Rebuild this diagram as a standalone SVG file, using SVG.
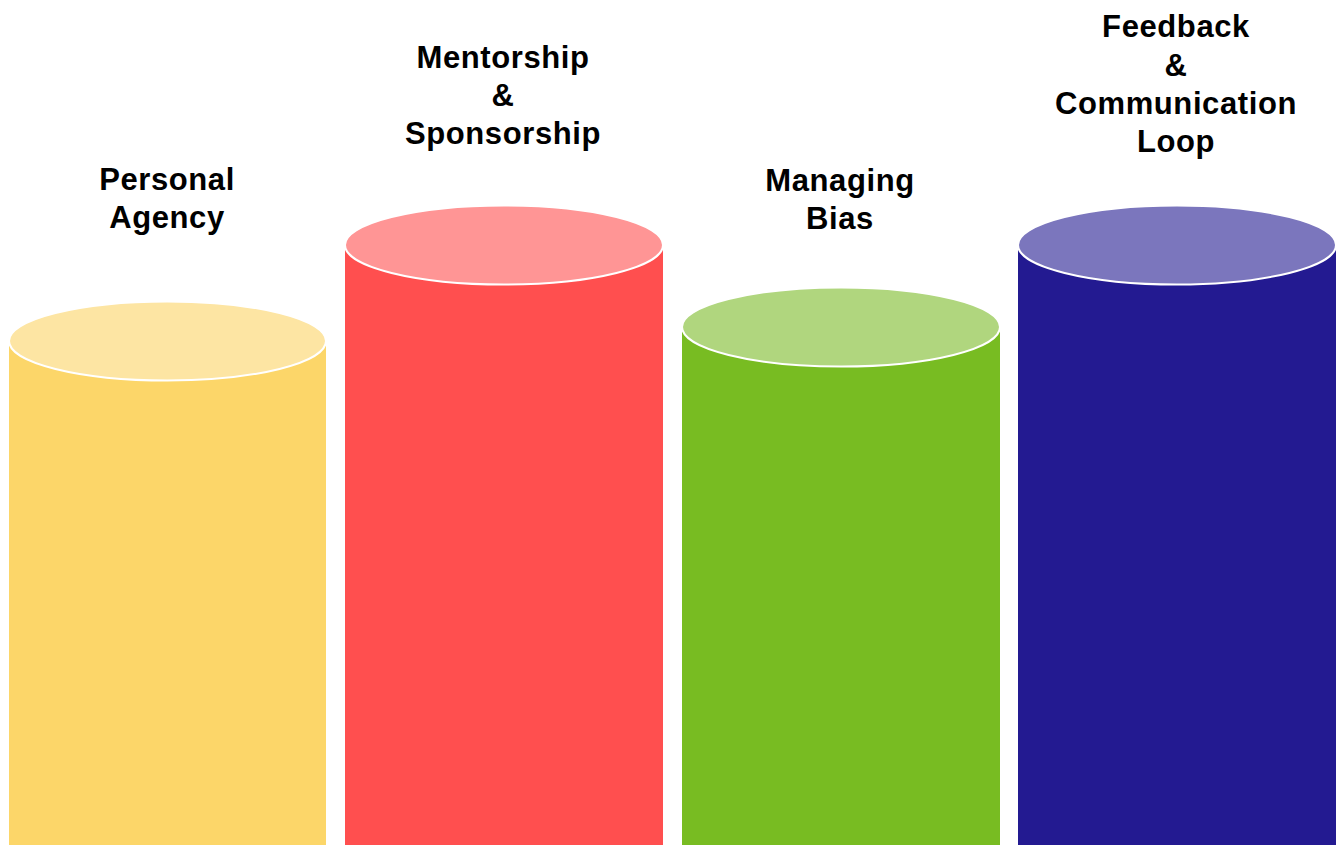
<svg xmlns="http://www.w3.org/2000/svg" width="1340" height="845" viewBox="0 0 1340 845">
  <style>
    .lbl { font-family: "Liberation Sans", Arial, sans-serif; font-weight: bold; font-size: 31px; letter-spacing: 0.6px; fill: #000; text-anchor: middle; }
    .cap { stroke: #fff; stroke-width: 2; }
  </style>
  <rect width="1340" height="845" fill="#fff"/>

  <!-- Column 1: Personal Agency -->
  <g id="personal-agency">
    <path d="M9 341 L9 845 L326 845 L326 341 Z" fill="#FCD669"/>
    <ellipse class="cap" cx="167.5" cy="341" rx="158.5" ry="39.5" fill="#FDE5A3"/>
    <text class="lbl" x="167" y="190">Personal</text>
    <text class="lbl" x="167" y="228">Agency</text>
  </g>

  <!-- Column 2: Mentorship & Sponsorship -->
  <g id="mentorship-sponsorship">
    <path d="M345 245 L345 845 L663 845 L663 245 Z" fill="#FF4F4F"/>
    <ellipse class="cap" cx="504" cy="245" rx="159" ry="39.5" fill="#FF9595"/>
    <text class="lbl" x="503" y="68">Mentorship</text>
    <text class="lbl" x="503" y="106">&amp;</text>
    <text class="lbl" x="503" y="144">Sponsorship</text>
  </g>

  <!-- Column 3: Managing Bias -->
  <g id="managing-bias">
    <path d="M682 327 L682 845 L1000 845 L1000 327 Z" fill="#78BC22"/>
    <ellipse class="cap" cx="841" cy="327" rx="159" ry="39.5" fill="#B0D67E"/>
    <text class="lbl" x="840" y="191">Managing</text>
    <text class="lbl" x="840" y="229">Bias</text>
  </g>

  <!-- Column 4: Feedback & Communication Loop -->
  <g id="feedback-communication">
    <path d="M1018 245 L1018 845 L1336 845 L1336 245 Z" fill="#231A91"/>
    <ellipse class="cap" cx="1177" cy="245" rx="159" ry="39.5" fill="#7B76BD"/>
    <text class="lbl" x="1176" y="37">Feedback</text>
    <text class="lbl" x="1176" y="76">&amp;</text>
    <text class="lbl" x="1176" y="114">Communication</text>
    <text class="lbl" x="1176" y="152">Loop</text>
  </g>

  <g id="connectors"/>
</svg>
